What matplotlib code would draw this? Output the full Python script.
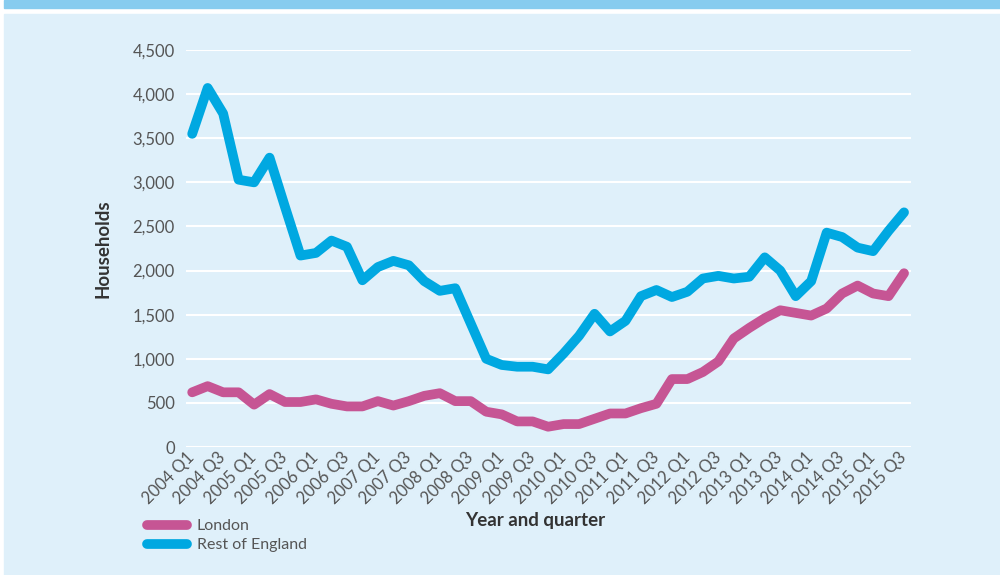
import matplotlib
matplotlib.use("Agg")
import matplotlib.pyplot as plt
from matplotlib.patches import Rectangle
from matplotlib.ticker import FuncFormatter

# ---------------------------------------------------------------------------
# Data (households per quarter)
# ---------------------------------------------------------------------------
years = list(range(2004, 2016))
quarters = [f"{y} Q{q}" for y in years for q in (1, 2, 3, 4)][:47]  # 2004 Q1 .. 2015 Q3

london = [620, 690, 620, 620, 480, 600, 510, 510, 540, 490, 460, 460,
          520, 470, 520, 580, 610, 520, 520, 400, 370, 290, 290, 230,
          260, 260, 320, 380, 380, 440, 490, 770, 770, 850, 970, 1230,
          1350, 1460, 1550, 1520, 1490, 1570, 1740, 1830, 1740, 1710, 1970]

rest_of_england = [3550, 4070, 3780, 3030, 3000, 3280, 2720, 2170, 2200, 2340,
                   2270, 1890, 2040, 2110, 2060, 1880, 1770, 1800, 1400, 1000,
                   930, 910, 910, 880, 1060, 1260, 1510, 1310, 1430, 1710,
                   1780, 1700, 1760, 1910, 1940, 1910, 1930, 2150, 2000, 1710,
                   1880, 2430, 2380, 2260, 2220, 2450, 2660]

series_names = ["London", "Rest of England"]

PINK = "#C65594"
BLUE = "#00A8E1"
BG = "#DFF0FA"
BAND = "#87CCEF"
TXT = "#555555"

plt.rcParams["font.family"] = ["Lato", "DejaVu Sans"]

fig = plt.figure(figsize=(10, 5.75), dpi=100, facecolor="white")

# panel background and top band
fig.patches.append(Rectangle((0.004, 0), 0.996, (575 - 14) / 575,
                             transform=fig.transFigure, color=BG, zorder=-10))
fig.patches.append(Rectangle((0.004, 1 - 8 / 575), 0.996, 8 / 575,
                             transform=fig.transFigure, color=BAND, zorder=-10))

ax = fig.add_axes([0.186, 0.2226, 0.725, 0.6904])
ax.set_facecolor("none")

x = list(range(len(quarters)))
ax.plot(x, london, color=PINK, lw=7, solid_capstyle="round",
        solid_joinstyle="round", label=series_names[0], zorder=3)
ax.plot(x, rest_of_england, color=BLUE, lw=7, solid_capstyle="round",
        solid_joinstyle="round", label=series_names[1], zorder=3)

ax.set_ylim(0, 4500)
ax.set_yticks(range(0, 4501, 500))
ax.yaxis.set_major_formatter(FuncFormatter(lambda v, p: f"{int(v):,}"))
ax.set_xlim(-0.4, 46.45)
ax.set_xticks(x[::2])
ax.set_xticklabels(quarters[::2], rotation=45, ha="right", va="center",
                   rotation_mode="anchor")

ax.grid(axis="y", color="white", lw=1.5, zorder=0)
ax.set_axisbelow(True)
for s in ax.spines.values():
    s.set_visible(False)
ax.tick_params(length=0, labelsize=12, labelcolor=TXT)
ax.tick_params(axis="y", pad=8)
ax.tick_params(axis="x", pad=6)

ax.set_ylabel("Households", fontsize=13.5, fontweight="bold", color="#333333",
              labelpad=15)
fig.text(0.535, 0.094, "Year and quarter", fontsize=13.5, fontweight="bold",
         color="#333333", ha="center", va="center")

fig.legend(loc="upper left", bbox_to_anchor=(0.133, 0.1225),
           frameon=False, fontsize=11.5, handlelength=2.5,
           handletextpad=0.6, labelspacing=0.31, labelcolor=TXT)

fig.savefig("out.png", dpi=100, facecolor="white")
